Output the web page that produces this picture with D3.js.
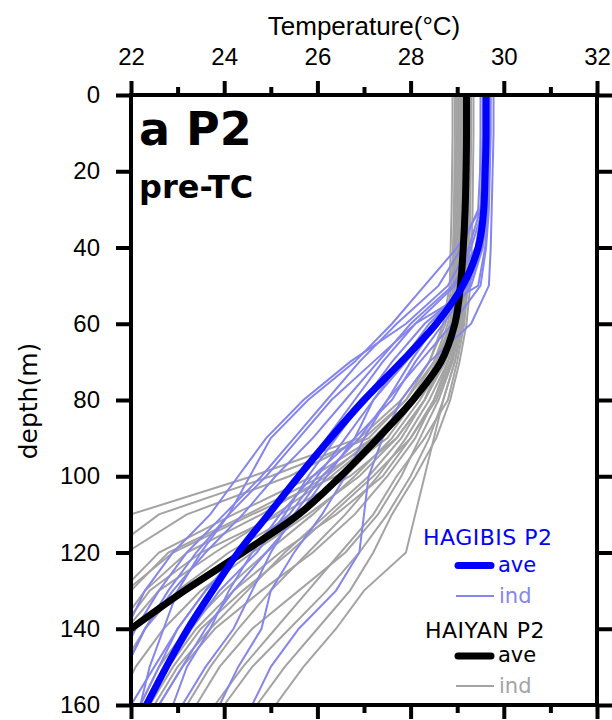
<!DOCTYPE html>
<html lang="en">
<head>
<meta charset="utf-8">
<title>P2 pre-TC profiles</title>
<script src="https://cdn.jsdelivr.net/npm/d3@7/dist/d3.min.js"></script>
<style>
  body { margin: 0; background: #fff; }
  text { font-family: "Liberation Sans", Arial, sans-serif; }
</style>
</head>
<body>
<div id="chart"></div>
<script>
// depth levels (m) shared by every profile
var depths = [0, 10, 20, 30, 40, 50, 60, 70, 80, 90, 100, 110, 120, 130, 140, 150, 160];

// HAGIBIS P2 average and individual profiles (deg C)
var hagibisAve = [29.62, 29.62, 29.60, 29.57, 29.45, 29.12, 28.55, 27.80, 27.00, 26.28, 25.60, 24.95, 24.30, 23.75, 23.22, 22.76, 22.33];
var hagibisInd = [
  [29.70, 29.70, 29.68, 29.66, 29.60, 29.45, 28.10, 27.40, 26.80, 26.20, 25.60, 25.00, 24.30, 23.60, 23.00, 22.50, 22.00],
  [29.55, 29.55, 29.54, 29.52, 29.40, 28.90, 28.00, 27.30, 26.60, 25.90, 25.10, 24.40, 23.60, 22.90, 22.30, 21.90, 21.50],
  [29.65, 29.65, 29.63, 29.60, 29.50, 29.20, 28.40, 27.80, 27.20, 26.80, 26.20, 25.60, 24.90, 24.20, 23.60, 23.10, 22.60],
  [29.60, 29.60, 29.58, 29.55, 29.30, 28.95, 28.10, 27.20, 26.30, 25.60, 24.90, 24.10, 23.40, 22.80, 22.30, 21.90, 21.60],
  [29.78, 29.78, 29.76, 29.74, 29.72, 29.68, 29.30, 28.40, 27.80, 27.40, 27.10, 27.00, 26.90, 26.40, 25.60, 25.00, 24.60],
  [29.50, 29.50, 29.49, 29.45, 29.10, 28.60, 27.70, 26.90, 26.20, 25.50, 24.80, 24.00, 23.20, 22.60, 22.10, 21.70, 21.40],
  [29.62, 29.62, 29.60, 29.58, 29.45, 29.15, 28.55, 28.00, 27.50, 26.90, 26.10, 25.50, 25.00, 24.60, 24.20, 23.60, 23.10],
  [29.58, 29.58, 29.56, 29.50, 29.25, 28.80, 27.90, 26.70, 25.70, 24.90, 24.30, 23.70, 22.90, 22.30, 21.90, 21.60, 21.30],
  [29.68, 29.68, 29.66, 29.64, 29.55, 29.30, 28.70, 28.10, 27.60, 26.80, 25.90, 25.20, 24.60, 24.10, 23.70, 23.20, 22.90],
  [29.55, 29.55, 29.53, 29.50, 29.00, 28.30, 27.60, 26.80, 25.80, 25.00, 24.55, 24.10, 23.50, 23.00, 22.70, 22.40, 22.20],
  [29.66, 29.66, 29.64, 29.60, 29.52, 29.25, 28.30, 27.60, 27.00, 26.40, 25.80, 25.30, 24.70, 23.90, 23.30, 22.80, 22.40],
  [29.60, 29.60, 29.58, 29.56, 29.48, 29.20, 28.60, 27.90, 27.20, 26.60, 26.00, 25.40, 24.40, 23.60, 23.00, 22.60, 22.20],
  [29.72, 29.72, 29.70, 29.68, 29.62, 29.50, 28.90, 28.20, 27.50, 27.00, 26.60, 26.10, 25.50, 25.00, 24.80, 24.30, 23.90]
];

// HAIYAN P2 average and individual profiles (deg C)
var haiyanAve = [29.20, 29.20, 29.19, 29.17, 29.13, 29.07, 28.95, 28.65, 28.05, 27.30, 26.50, 25.60, 24.40, 23.15, 22.00, 20.90, 19.80];
var haiyanInd = [
  [29.25, 29.25, 29.24, 29.22, 29.20, 29.18, 29.10, 28.95, 28.70, 28.50, 28.30, 28.10, 27.90, 27.00, 26.40, 25.70, 25.10],
  [29.10, 29.10, 29.09, 29.08, 29.06, 29.04, 28.90, 28.50, 27.90, 27.00, 25.40, 23.20, 21.90, 21.30, 20.90, 20.60, 20.30],
  [29.20, 29.20, 29.19, 29.18, 29.16, 29.14, 29.05, 28.80, 28.40, 27.90, 27.30, 26.60, 25.80, 25.00, 24.30, 23.70, 23.20],
  [29.00, 29.00, 29.00, 28.98, 28.96, 28.94, 28.85, 28.60, 28.00, 27.20, 26.20, 24.80, 23.20, 22.30, 21.70, 21.30, 21.00],
  [29.30, 29.30, 29.29, 29.28, 29.26, 29.23, 29.15, 29.00, 28.80, 28.30, 27.70, 27.20, 26.50, 25.80, 25.10, 24.40, 23.80],
  [28.95, 28.95, 28.94, 28.93, 28.91, 28.88, 28.75, 28.40, 27.80, 26.90, 24.60, 22.00, 21.20, 20.80, 20.50, 20.30, 20.10],
  [29.15, 29.15, 29.14, 29.13, 29.11, 29.08, 28.98, 28.70, 28.20, 27.60, 26.80, 25.90, 24.90, 24.00, 23.20, 22.60, 22.20],
  [29.05, 29.05, 29.04, 29.03, 29.01, 28.99, 28.90, 28.65, 28.30, 27.70, 26.70, 25.20, 23.50, 22.40, 21.80, 21.40, 21.10],
  [29.22, 29.22, 29.21, 29.20, 29.18, 29.15, 29.08, 28.90, 28.60, 28.20, 27.80, 27.30, 26.60, 25.60, 24.60, 23.90, 23.40],
  [29.12, 29.12, 29.11, 29.10, 29.08, 29.05, 28.95, 28.70, 28.10, 27.30, 26.10, 24.50, 22.80, 22.00, 21.50, 21.10, 20.90],
  [29.18, 29.18, 29.17, 29.16, 29.14, 29.12, 29.02, 28.80, 28.50, 28.00, 27.40, 26.40, 25.20, 24.20, 23.40, 22.80, 22.30],
  [28.90, 28.90, 28.89, 28.88, 28.86, 28.84, 28.70, 28.40, 27.90, 27.10, 25.00, 22.60, 21.50, 21.00, 20.70, 20.50, 20.30],
  [29.28, 29.28, 29.27, 29.26, 29.24, 29.21, 29.12, 28.95, 28.70, 28.40, 28.00, 27.50, 26.90, 26.20, 25.40, 24.60, 24.00],
  [29.08, 29.08, 29.07, 29.06, 29.04, 29.02, 28.92, 28.60, 28.00, 27.40, 26.60, 25.50, 24.10, 23.00, 22.30, 21.80, 21.40],
  [29.02, 29.02, 29.01, 29.00, 28.98, 28.96, 28.85, 28.55, 28.10, 27.50, 26.40, 24.60, 22.90, 21.90, 21.30, 20.90, 20.60],
  [29.16, 29.16, 29.15, 29.14, 29.12, 29.10, 29.00, 28.75, 28.30, 27.80, 27.10, 26.20, 25.30, 24.50, 23.70, 23.00, 22.50],
  [29.35, 29.35, 29.34, 29.33, 29.31, 29.28, 29.20, 29.05, 28.85, 28.55, 28.10, 27.60, 27.20, 26.70, 26.00, 25.30, 24.70],
  [29.06, 29.06, 29.05, 29.04, 29.02, 29.00, 28.90, 28.60, 28.10, 27.20, 25.90, 24.20, 22.60, 21.80, 21.30, 21.00, 20.80],
  [29.20, 29.20, 29.19, 29.18, 29.16, 29.13, 29.04, 28.85, 28.50, 28.10, 27.50, 26.80, 25.90, 24.80, 23.80, 23.10, 22.60],
  [28.98, 28.98, 28.97, 28.96, 28.94, 28.92, 28.80, 28.50, 28.00, 27.30, 26.30, 25.10, 23.80, 22.60, 21.90, 21.40, 21.00],
  [29.24, 29.24, 29.23, 29.22, 29.20, 29.17, 29.08, 28.88, 28.55, 28.00, 27.20, 26.30, 25.40, 24.40, 23.50, 22.90, 22.40],
  [29.10, 29.10, 29.09, 29.08, 29.06, 29.04, 28.94, 28.70, 28.30, 27.70, 26.90, 25.80, 24.60, 23.50, 22.70, 22.10, 21.70]
];

// axis ticks
var tempMajor = [22, 24, 26, 28, 30, 32];
var tempMinor = [23, 25, 27, 29, 31];
var depthTicks = [0, 20, 40, 60, 80, 100, 120, 140, 160];

// legend
var legendTitles = ["HAGIBIS P2", "HAIYAN P2"];
var legendKeys = ["ave", "ind"];

var W = 612, H = 720;
var plotL = 131, plotR = 597, plotT = 95, plotB = 705;

var svg = d3.select("#chart").append("svg").attr("width", W).attr("height", H);

var x = d3.scaleLinear().domain([22, 32]).range([plotL, plotR]);
var y = d3.scaleLinear().domain([0, 160]).range([plotT, plotB]);

svg.append("clipPath").attr("id", "plotclip")
  .append("rect").attr("x", plotL).attr("y", plotT).attr("width", plotR - plotL).attr("height", plotB - plotT);

var plot = svg.append("g").attr("clip-path", "url(#plotclip)");

function profile(vals) {
  return depths.map(function(d, i) { return [vals[i], d]; });
}
var thin = d3.line().x(function(p) { return x(p[0]); }).y(function(p) { return y(p[1]); });
var smooth = d3.line().x(function(p) { return x(p[0]); }).y(function(p) { return y(p[1]); }).curve(d3.curveMonotoneY);

var grayCol = "#a3a3a3", lightBlue = "#8585ee";

plot.selectAll("path.haiyan").data(haiyanInd).enter().append("path")
  .attr("class", "haiyan")
  .attr("d", function(d) { return thin(profile(d)); })
  .attr("fill", "none").attr("stroke", grayCol).attr("stroke-width", 2);

plot.selectAll("path.hagibis").data(hagibisInd).enter().append("path")
  .attr("class", "hagibis")
  .attr("d", function(d) { return thin(profile(d)); })
  .attr("fill", "none").attr("stroke", lightBlue).attr("stroke-width", 2);

plot.append("path").attr("d", smooth(profile(haiyanAve)))
  .attr("fill", "none").attr("stroke", "#000").attr("stroke-width", 7);
plot.append("path").attr("d", smooth(profile(hagibisAve)))
  .attr("fill", "none").attr("stroke", "#0000ff").attr("stroke-width", 7);

// axes: labelled top/left, ticks only on bottom/right
function styleAxis(g) {
  g.select(".domain").remove();
  g.selectAll("line").attr("stroke", "#000").attr("stroke-width", 4);
  g.selectAll("text").attr("font-size", "24px").attr("fill", "#000")
    .style("font-family", "'Liberation Sans', Arial, sans-serif");
}

svg.append("g").attr("transform", "translate(0," + plotT + ")")
  .call(d3.axisTop(x).tickValues(tempMajor).tickSize(14).tickPadding(16).tickFormat(d3.format("d")))
  .call(styleAxis);
svg.append("g").attr("transform", "translate(0," + plotT + ")")
  .call(d3.axisTop(x).tickValues(tempMinor).tickSize(8).tickFormat(""))
  .call(styleAxis);
svg.append("g").attr("transform", "translate(0," + plotB + ")")
  .call(d3.axisBottom(x).tickValues(tempMajor).tickSize(14).tickFormat(""))
  .call(styleAxis);
svg.append("g").attr("transform", "translate(0," + plotB + ")")
  .call(d3.axisBottom(x).tickValues(tempMinor).tickSize(8).tickFormat(""))
  .call(styleAxis);
svg.append("g").attr("transform", "translate(" + plotL + ",0)")
  .call(d3.axisLeft(y).tickValues(depthTicks).tickSize(15).tickPadding(16))
  .call(styleAxis);
svg.append("g").attr("transform", "translate(" + plotR + ",0)")
  .call(d3.axisRight(y).tickValues(depthTicks).tickSize(15).tickFormat(""))
  .call(styleAxis);

svg.append("rect").attr("x", plotL).attr("y", plotT)
  .attr("width", plotR - plotL).attr("height", plotB - plotT)
  .attr("fill", "none").attr("stroke", "#000").attr("stroke-width", 4);

// axis titles
svg.append("text").text("Temperature(°C)")
  .attr("x", (plotL + plotR) / 2).attr("y", 35).attr("text-anchor", "middle")
  .attr("font-size", "26px").attr("fill", "#000");
svg.append("text").text("depth(m)")
  .attr("transform", "translate(37,401) rotate(-90)").attr("text-anchor", "middle")
  .style("font-family", "'DejaVu Sans', sans-serif")
  .attr("font-size", "25px").attr("fill", "#000");

// panel labels
svg.append("text").text("a P2").attr("x", 139).attr("y", 145)
  .style("font-family", "'DejaVu Sans', sans-serif")
  .attr("font-size", "46px").attr("font-weight", "bold");
svg.append("text").text("pre-TC").attr("x", 139).attr("y", 198)
  .style("font-family", "'DejaVu Sans', sans-serif")
  .attr("font-size", "32px").attr("font-weight", "bold");

// legend
var lg = svg.append("g");
var titleCol = ["#0000ff", "#000"];
var aveCol = ["#0000ff", "#000"];
var indCol = [lightBlue, grayCol];
var titleY = [545, 638], aveY = [565.5, 656], indY = [596, 686];
var titleX = [423, 425];
legendTitles.forEach(function(t, i) {
  lg.append("text").text(t).attr("x", titleX[i]).attr("y", titleY[i])
    .style("font-family", "'DejaVu Sans', sans-serif")
    .attr("font-size", "22px").attr("letter-spacing", "0.5px").attr("fill", titleCol[i]);
  lg.append("line").attr("x1", 458).attr("x2", 491).attr("y1", aveY[i]).attr("y2", aveY[i])
    .attr("stroke", aveCol[i]).attr("stroke-width", 7).attr("stroke-linecap", "round");
  lg.append("text").text(legendKeys[0]).attr("x", 498).attr("y", aveY[i] + 6)
    .style("font-family", "'DejaVu Sans', sans-serif")
    .attr("font-size", "21px").attr("fill", aveCol[i]);
  lg.append("line").attr("x1", 456).attr("x2", 494).attr("y1", indY[i]).attr("y2", indY[i])
    .attr("stroke", indCol[i]).attr("stroke-width", 2);
  lg.append("text").text(legendKeys[1]).attr("x", 499).attr("y", indY[i] + 7)
    .style("font-family", "'DejaVu Sans', sans-serif")
    .attr("font-size", "21px").attr("fill", indCol[i]);
});
</script>
</body>
</html>
